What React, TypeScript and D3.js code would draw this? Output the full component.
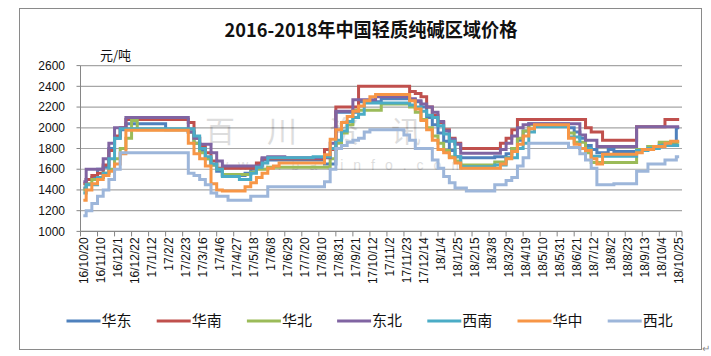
import React from 'react';
import * as d3 from 'd3';

const tickLabels = [
  '16/10/20', '16/11/10', '16/12/1', '16/12/22', '17/1/12', '17/2/2', '17/2/23', '17/3/16', '17/4/6',
  '17/4/27', '17/5/18', '17/6/8', '17/6/29', '17/7/20', '17/8/10', '17/8/31', '17/9/21', '17/10/12',
  '17/11/2', '17/11/23', '17/12/14', '18/1/4', '18/1/25', '18/2/15', '18/3/8', '18/3/29', '18/4/19',
  '18/5/10', '18/5/31', '18/6/21', '18/7/12', '18/8/2', '18/8/23', '18/9/13', '18/10/4', '18/10/25',
];

const seriesNames = ['华东', '华南', '华北', '东北', '西南', '华中', '西北'];
const seriesColors = ['#4F81BD', '#C0504D', '#9BBB59', '#8064A2', '#4BACC6', '#F79646', '#9DB6DA'];

const huadong = [
  1420, 1500, 1520, 1600, 1620, 1800, 1900, 1980, 2040, 2040,
  2040, 2040, 2040, 2040, 2040, 1980, 1980, 1980, 1980, 1960,
  1850, 1780, 1700, 1640, 1580, 1540, 1540, 1540, 1540, 1560,
  1600, 1640, 1690, 1690, 1690, 1690, 1690, 1690, 1690, 1690,
  1690, 1690, 1690, 1650, 1650, 2150, 2150, 2150, 2150, 2250,
  2250, 2250, 2250, 2280, 2280, 2280, 2280, 2280, 2270, 2250,
  2200, 2100, 2030, 1950, 1870, 1780, 1720, 1710, 1710, 1710,
  1710, 1710, 1710, 1720, 1720, 1750, 1800, 1880, 1970, 2040,
  2040, 2040, 2040, 2040, 2040, 2040, 2000, 1960, 1900, 1830,
  1790, 1760, 1760, 1790, 1770, 1770, 1770, 1770, 1790, 1790,
  1820, 1820, 1850, 1850, 1850, 2000,
];

const huanan = [
  1460, 1500, 1540, 1560, 1640, 1780, 1920, 2000, 2080, 2080,
  2080, 2080, 2080, 2080, 2080, 2080, 2080, 2080, 2080, 2050,
  1900, 1830, 1760, 1680, 1610, 1610, 1610, 1610, 1610, 1610,
  1610, 1660, 1700, 1700, 1700, 1700, 1700, 1700, 1700, 1700,
  1700, 1700, 1700, 1790, 1790, 2200, 2200, 2200, 2200, 2400,
  2400, 2400, 2400, 2400, 2400, 2400, 2400, 2400, 2350, 2330,
  2300, 2200, 2120, 2050, 1980, 1900, 1850, 1800, 1800, 1800,
  1800, 1800, 1800, 1800, 1850, 1900, 1980, 2080, 2080, 2080,
  2080, 2080, 2080, 2080, 2080, 2080, 2080, 2080, 2080, 2000,
  1960, 1960, 1880, 1880, 1880, 1880, 1880, 1880, 2010, 2010,
  2010, 2010, 2010, 2080, 2080, 2080,
];

const huabei = [
  1400, 1460, 1500, 1520, 1560, 1600, 1700, 1800, 1900, 2070,
  1980, 1980, 1980, 1980, 1980, 1980, 1980, 1980, 1980, 1960,
  1850, 1760, 1700, 1640, 1600, 1550, 1550, 1550, 1550, 1550,
  1570, 1600, 1600, 1620, 1620, 1620, 1620, 1620, 1620, 1620,
  1620, 1620, 1620, 1620, 1700, 1850, 1950, 2030, 2170, 2170,
  2170, 2170, 2170, 2230, 2230, 2230, 2230, 2230, 2200, 2150,
  2080, 2000, 1920, 1850, 1780, 1720, 1680, 1640, 1640, 1640,
  1640, 1640, 1640, 1670, 1670, 1710, 1800, 1900, 1970, 2030,
  2030, 2030, 2030, 2030, 2030, 2030, 1950, 1860, 1860, 1760,
  1665, 1665, 1665, 1665, 1665, 1665, 1665, 1665, 1790, 1790,
  1820, 1820, 1860, 1860, 1860, 1860,
];

const dongbei = [
  1480, 1600, 1600, 1600, 1700, 1850, 2000, 2000, 2100, 2100,
  2100, 2100, 2100, 2100, 2100, 2100, 2100, 2100, 2100, 1960,
  1900, 1840, 1840, 1760, 1680, 1630, 1630, 1630, 1630, 1630,
  1630, 1630, 1710, 1720, 1720, 1720, 1710, 1710, 1710, 1710,
  1710, 1710, 1710, 1710, 1850, 2160, 2160, 2160, 2270, 2270,
  2270, 2270, 2300, 2300, 2300, 2300, 2300, 2300, 2280, 2260,
  2230, 2200, 2150, 2060, 1970, 1890, 1840, 1755, 1755, 1755,
  1755, 1755, 1755, 1755, 1790, 1850, 1920, 2000, 2030, 2040,
  2040, 2040, 2040, 2040, 2040, 2040, 2040, 2040, 1930, 1880,
  1880, 1820, 1820, 1820, 1820, 1820, 1820, 1820, 2010, 2010,
  2010, 2010, 2010, 2010, 2010, 2010,
];

const xinan = [
  1370, 1450, 1450, 1520, 1560, 1700, 1900, 1990, 1990, 1990,
  1990, 1990, 1990, 1990, 1990, 1990, 1990, 1990, 1990, 1990,
  1920, 1800, 1720, 1650, 1600, 1530, 1530, 1530, 1500, 1500,
  1560, 1620, 1660, 1710, 1710, 1710, 1710, 1710, 1710, 1710,
  1710, 1720, 1720, 1720, 1800, 1880, 1970, 2060, 2100, 2130,
  2240, 2240, 2240, 2240, 2240, 2240, 2240, 2240, 2220, 2200,
  2160, 2120, 2100, 2020, 1940, 1870, 1720, 1625, 1625, 1625,
  1625, 1625, 1625, 1640, 1640, 1710, 1710, 1800, 1850, 1960,
  2010, 2010, 2010, 2010, 2010, 2010, 1910, 1910, 1800, 1800,
  1725, 1725, 1725, 1725, 1725, 1725, 1725, 1725, 1780, 1780,
  1800, 1800, 1830, 1830, 1830, 1830,
];

const huazhong = [
  1300, 1400, 1460, 1500, 1540, 1580, 1650, 1750, 1975, 1975,
  1975, 1975, 1975, 1975, 1975, 1975, 1975, 1975, 1975, 1850,
  1750, 1700, 1630, 1460, 1400, 1390, 1390, 1390, 1390, 1430,
  1470, 1520, 1560, 1610, 1630, 1660, 1660, 1660, 1660, 1660,
  1660, 1660, 1660, 1740, 1890, 1980, 2050, 2110, 2160, 2210,
  2260, 2300, 2320, 2320, 2320, 2320, 2320, 2320, 2260, 2180,
  2070, 1980, 1880, 1790, 1760, 1710, 1660, 1610, 1610, 1610,
  1610, 1610, 1610, 1610, 1650, 1700, 1770, 1840, 1920, 1990,
  2030, 2030, 2030, 2030, 2030, 2030, 1900, 1840, 1800, 1780,
  1700, 1650, 1745, 1745, 1745, 1745, 1745, 1745, 1760, 1790,
  1790, 1820, 1820, 1850, 1870, 1870,
];

const xibei = [
  1150, 1200, 1270, 1340, 1400, 1500, 1600, 1760, 1760, 1760,
  1760, 1760, 1760, 1760, 1760, 1760, 1760, 1760, 1760, 1560,
  1540, 1500, 1450, 1370, 1340, 1340, 1300, 1300, 1300, 1300,
  1340, 1340, 1340, 1430, 1430, 1430, 1430, 1430, 1430, 1430,
  1430, 1430, 1430, 1480, 1600, 1800, 1830, 1860, 1880, 1900,
  1960, 1980, 1980, 1980, 1980, 1980, 1980, 1930, 1880, 1800,
  1800, 1800, 1690, 1610, 1530, 1470, 1420, 1420, 1390, 1390,
  1390, 1390, 1390, 1450, 1450, 1490, 1520, 1630, 1710, 1850,
  1850, 1850, 1850, 1850, 1850, 1850, 1810, 1810, 1750, 1690,
  1610, 1450, 1450, 1450, 1460, 1460, 1460, 1460, 1580, 1580,
  1650, 1650, 1650, 1690, 1690, 1720,
];

const seriesValues = [huadong, huanan, huabei, dongbei, xinan, huazhong, xibei];

const W = 711;
const H = 356;
const plotL = 80.5;
const plotR = 682;
const plotT = 65.6;
const plotB = 231.4;

export default function App() {
  const n = huadong.length;
  const x = d3.scaleBand<number>().domain(d3.range(n)).range([plotL, plotR]).padding(0);
  const bw = x.bandwidth();
  const y = d3.scaleLinear().domain([1000, 2600]).range([plotB, plotT]);
  const yTicks = y.ticks(8);
  const line = d3
    .line<number>()
    .x((_, i) => (x(i) as number) + bw / 2)
    .y((d) => y(d))
    .curve(d3.curveStep);

  const labelIdx = tickLabels.map((_, k) => k * 3);
  const tickPos = labelIdx.map((i) => x(i) as number).concat([plotR]);

  const legendX0 = 66.5;
  const legendStep = 90.2;
  const legendY = 321;

  return (
    <svg
      width={W}
      height={H}
      style={{ position: 'absolute', left: 0, top: 0, background: '#fff' }}
      fontFamily="'Liberation Sans', Arial, sans-serif"
    >
      <rect x={0} y={0} width={W} height={H} fill="#fff" />
      <rect x={19.5} y={8.5} width={682} height={341} fill="#fff" stroke="#8a8a8a" strokeWidth={1} />

      <text
        x={371}
        y={37}
        textAnchor="middle"
        fontSize={19}
        fontWeight="bold"
        fontFamily="'Noto Sans CJK SC', sans-serif"
        textLength={293}
        lengthAdjust="spacingAndGlyphs"
        fill="#111"
      >
        2016-2018年中国轻质纯碱区域价格
      </text>

      <text x={100} y={60} fontSize={13} fontFamily="'Noto Sans CJK SC', sans-serif" fill="#111">
        元/吨
      </text>

      {/* gridlines */}
      {yTicks.map((t) => (
        <line key={'g' + t} x1={plotL} x2={plotR} y1={y(t)} y2={y(t)} stroke="#a6a6a6" strokeWidth={1.2} />
      ))}

      {/* watermark */}
      <g fill="#000" opacity={0.13} fontFamily="'Noto Sans CJK SC', sans-serif">
        <text x={205} y={142} fontSize={30} letterSpacing={32}>
          百川资讯
        </text>
        <text x={218} y={170} fontSize={14} letterSpacing={10} fontFamily="'Liberation Sans', sans-serif">
          www.baiinfo.com
        </text>
      </g>

      {/* y axis */}
      <line x1={plotL} x2={plotL} y1={plotT} y2={plotB} stroke="#868686" strokeWidth={1} />
      {yTicks.map((t) => (
        <g key={'yt' + t}>
          <line x1={plotL - 4} x2={plotL} y1={y(t)} y2={y(t)} stroke="#868686" />
          <text x={65} y={y(t)} dy="0.35em" textAnchor="end" fontSize={12} fill="#111">
            {t}
          </text>
        </g>
      ))}

      {/* x axis */}
      <line x1={plotL} x2={plotR} y1={plotB} y2={plotB} stroke="#868686" strokeWidth={1} />
      {tickPos.map((p, k) => (
        <line key={'xt' + k} x1={p} x2={p} y1={plotB} y2={plotB + 5} stroke="#868686" />
      ))}
      {tickLabels.map((lab, k) => {
        const cx = (x(labelIdx[k]) as number) + bw / 2;
        return (
          <text
            key={'xl' + k}
            transform={`translate(${cx},${plotB + 6}) rotate(-90)`}
            textAnchor="end"
            dy="0.35em"
            fontSize={12}
            fill="#111"
          >
            {lab}
          </text>
        );
      })}

      {/* series */}
      {seriesValues.map((vals, s) => (
        <path
          key={'s' + s}
          d={line(vals) || ''}
          fill="none"
          stroke={seriesColors[s]}
          strokeWidth={3}
          strokeLinejoin="miter"
        />
      ))}

      {/* legend */}
      {seriesNames.map((nm, s) => {
        const lx = legendX0 + s * legendStep;
        return (
          <g key={'lg' + s}>
            <line x1={lx} x2={lx + 34} y1={legendY} y2={legendY} stroke={seriesColors[s]} strokeWidth={3} />
            <text
              x={lx + 35}
              y={legendY}
              dy="0.36em"
              fontSize={15}
              fontFamily="'Noto Sans CJK SC', sans-serif"
              fill="#111"
            >
              {nm}
            </text>
          </g>
        );
      })}

      <text x={702} y={352} fontSize={10} fill="#888">
        ↵
      </text>
    </svg>
  );
}
